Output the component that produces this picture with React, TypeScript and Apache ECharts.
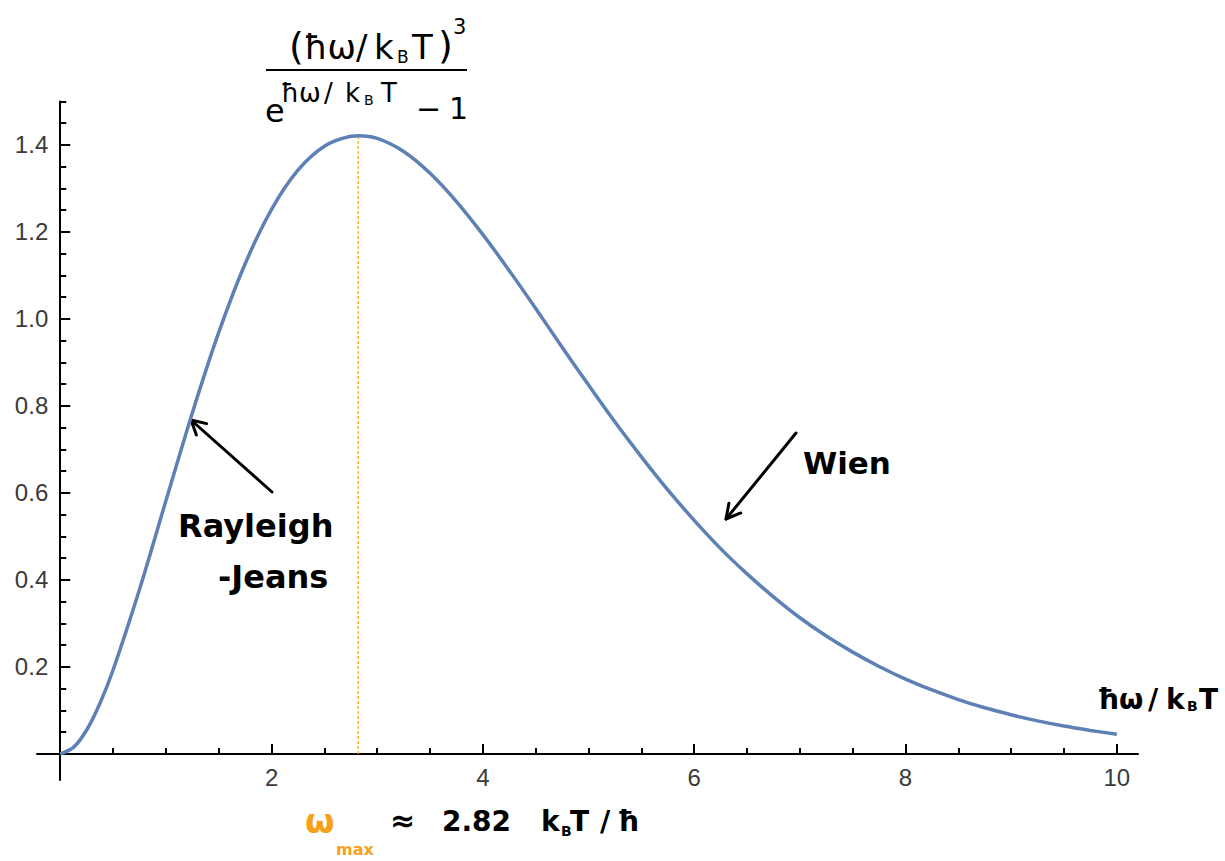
import React, { useEffect, useRef } from 'react';
import * as echarts from 'echarts';

// x = ħω/kBT, y = (ħω/kBT)^3 / (e^(ħω/kBT) - 1)
const xValues = [0, 0.125, 0.25, 0.375, 0.5, 0.75, 1, 1.25, 1.5, 1.75, 2, 2.25, 2.5, 2.75, 2.82, 3, 3.25, 3.5, 3.75, 4, 4.25, 4.5, 4.75, 5, 5.25, 5.5, 5.75, 6, 6.25, 6.5, 6.75, 7, 7.25, 7.5, 7.75, 8, 8.25, 8.5, 8.75, 9, 9.25, 9.5, 9.75, 10];
const yValues = [0, 0.015, 0.055, 0.116, 0.193, 0.378, 0.582, 0.784, 0.969, 1.127, 1.252, 1.342, 1.397, 1.420, 1.421, 1.415, 1.385, 1.335, 1.270, 1.194, 1.111, 1.024, 0.935, 0.848, 0.763, 0.683, 0.607, 0.537, 0.472, 0.414, 0.361, 0.313, 0.271, 0.234, 0.201, 0.172, 0.147, 0.125, 0.106, 0.090, 0.076, 0.064, 0.054, 0.045];

const peakX = [2.82, 2.82];
const peakY = [0, 1.421];

const xMajorTicks = [2, 4, 6, 8, 10];
const xMinorTicks = [0.5, 1, 1.5, 2.5, 3, 3.5, 4.5, 5, 5.5, 6.5, 7, 7.5, 8.5, 9, 9.5];
const yMajorTicks = [0.2, 0.4, 0.6, 0.8, 1.0, 1.2, 1.4];
const yMinorTicks = [0.05, 0.1, 0.15, 0.25, 0.3, 0.35, 0.45, 0.5, 0.55, 0.65, 0.7, 0.75, 0.85, 0.9, 0.95, 1.05, 1.1, 1.15, 1.25, 1.3, 1.35, 1.45, 1.5];
const xTickLabels = ['2', '4', '6', '8', '10'];
const yTickLabels = ['0.2', '0.4', '0.6', '0.8', '1.0', '1.2', '1.4'];

const CURVE = '#5E81B5';
const ORANGE = '#F7A11A';
const HAND = '"DejaVu Sans", "Noto Sans", sans-serif';
const TICKFONT = '"Liberation Sans", Arial, sans-serif';

type Pt = [number, number];

function txt(text: string, x: number, y: number, size: number, opts: any = {}) {
  return {
    type: 'text',
    x,
    y,
    silent: true,
    style: {
      text,
      fill: opts.fill || '#000',
      font: `${opts.weight || 'normal'} ${size}px ${opts.family || HAND}`,
      textAlign: opts.align || 'left',
      textVerticalAlign: 'middle',
    },
  };
}

function arrow(tail: Pt, tip: Pt, len = 16, ang = 0.5) {
  const dx = tail[0] - tip[0];
  const dy = tail[1] - tip[1];
  const L = Math.hypot(dx, dy);
  const ux = dx / L;
  const uy = dy / L;
  const rot = (a: number): Pt => [
    tip[0] + len * (ux * Math.cos(a) - uy * Math.sin(a)),
    tip[1] + len * (ux * Math.sin(a) + uy * Math.cos(a)),
  ];
  return [
    {
      type: 'line',
      silent: true,
      shape: { x1: tail[0], y1: tail[1], x2: tip[0], y2: tip[1] },
      style: { stroke: '#000', lineWidth: 3, lineCap: 'round' },
    },
    {
      type: 'polyline',
      silent: true,
      shape: { points: [rot(ang), tip, rot(-ang)] },
      style: { stroke: '#000', lineWidth: 3, fill: 'none', lineCap: 'round', lineJoin: 'round' },
    },
  ];
}

export default function App() {
  const ref = useRef<HTMLDivElement>(null);

  useEffect(() => {
    document.body.style.margin = '0';
    if (!ref.current) return;
    const chart = echarts.init(ref.current, null, { renderer: 'svg' });

    const black = { color: '#000', width: 2 };

    chart.setOption({
      animation: false,
      backgroundColor: '#fff',
      grid: {
        left: 37,
        top: 101.5,
        width: 1101,
        height: 678.5,
        containLabel: false,
        outerBoundsMode: 'none',
      },
      xAxis: [
        {
          type: 'value',
          min: -0.22,
          max: 10.2,
          position: 'bottom',
          axisLine: { show: true, onZero: true, onZeroAxisIndex: 0, lineStyle: black },
          axisTick: { show: true, inside: true, length: 10, customValues: xMajorTicks, lineStyle: black },
          axisLabel: { show: false },
          splitLine: { show: false },
        },
        {
          type: 'value',
          min: -0.22,
          max: 10.2,
          position: 'bottom',
          axisLine: { show: false, onZero: true, onZeroAxisIndex: 0 },
          axisTick: { show: true, inside: true, length: 6, customValues: xMinorTicks, lineStyle: black },
          axisLabel: { show: false },
          splitLine: { show: false },
        },
      ],
      yAxis: [
        {
          type: 'value',
          min: -0.06,
          max: 1.5,
          position: 'left',
          axisLine: { show: true, onZero: true, onZeroAxisIndex: 0, lineStyle: black },
          axisTick: { show: true, inside: true, length: 10, customValues: yMajorTicks, lineStyle: black },
          axisLabel: { show: false },
          splitLine: { show: false },
        },
        {
          type: 'value',
          min: -0.06,
          max: 1.5,
          position: 'left',
          axisLine: { show: false, onZero: true, onZeroAxisIndex: 0 },
          axisTick: { show: true, inside: true, length: 6, customValues: yMinorTicks, lineStyle: black },
          axisLabel: { show: false },
          splitLine: { show: false },
        },
      ],
      series: [
        {
          type: 'line',
          xAxisIndex: 0,
          yAxisIndex: 0,
          data: peakX.map((x, i) => [x, peakY[i]]),
          showSymbol: false,
          silent: true,
          z: 1,
          lineStyle: { color: ORANGE, width: 1.3, type: [3, 2] },
        },
        {
          type: 'line',
          xAxisIndex: 0,
          yAxisIndex: 0,
          data: xValues.map((x, i) => [x, yValues[i]]),
          showSymbol: false,
          smooth: 0.3,
          silent: true,
          z: 2,
          lineStyle: { color: CURVE, width: 3.5 },
        },
      ],
    });

    // tick labels positioned through the axes' own scales
    const toPx = (x: number, y: number): number[] =>
      chart.convertToPixel({ xAxisIndex: 0, yAxisIndex: 0 }, [x, y]) as number[];
    const tickLabels: any[] = [];
    xMajorTicks.forEach((v, i) => {
      const p = toPx(v, 0);
      tickLabels.push(txt(xTickLabels[i], p[0], p[1] + 24, 24, { family: TICKFONT, fill: '#3a3a3a', align: 'center' }));
    });
    yMajorTicks.forEach((v, i) => {
      const p = toPx(0, v);
      tickLabels.push(txt(yTickLabels[i], p[0] - 12, p[1], 24, { family: TICKFONT, fill: '#3a3a3a', align: 'right' }));
    });

    const graphic: any[] = [
      ...tickLabels,
      // top formula: numerator
      txt('(', 289, 46, 38),
      txt('ħω', 304, 47, 34),
      txt('/', 356, 47, 34),
      txt('k', 374, 47, 34),
      txt('B', 397, 57, 17),
      txt('T', 412, 47, 34),
      txt(')', 438, 45, 38),
      txt('3', 453, 27, 21),
      {
        type: 'line',
        silent: true,
        shape: { x1: 266, y1: 70, x2: 467, y2: 70 },
        style: { stroke: '#000', lineWidth: 2 },
      },
      // denominator
      txt('e', 265, 111, 32),
      txt('ħω', 281, 93, 26),
      txt('/', 324, 93, 26),
      txt('k', 345, 93, 26),
      txt('B', 364, 100, 14),
      txt('T', 381, 93, 26),
      txt('−', 416, 108, 30),
      txt('1', 449, 108, 30),
      // axis name
      txt('ħω', 1097, 699, 28, { weight: 'bold' }),
      txt('/', 1148, 699, 28, { weight: 'bold' }),
      txt('k', 1166, 699, 28, { weight: 'bold' }),
      txt('B', 1187, 706, 14, { weight: 'bold' }),
      txt('T', 1199, 699, 28, { weight: 'bold' }),
      // annotations
      txt('Rayleigh', 178, 526, 32, { weight: 'bold' }),
      txt('-Jeans', 218, 577, 32, { weight: 'bold' }),
      txt('Wien', 803, 463, 31, { weight: 'bold' }),
      ...arrow([272, 492], [191, 420]),
      ...arrow([796, 433], [726, 519]),
      // bottom: omega max
      txt('ω', 305, 821, 34, { weight: 'bold', fill: ORANGE }),
      txt('max', 336, 849, 16, { weight: 'bold', fill: ORANGE }),
      txt('≈', 390, 820, 30, { weight: 'bold' }),
      txt('2.82', 442, 821, 28, { weight: 'bold' }),
      txt('k', 541, 821, 28, { weight: 'bold' }),
      txt('B', 561, 831, 14, { weight: 'bold' }),
      txt('T', 570, 821, 28, { weight: 'bold' }),
      txt('/', 600, 821, 28, { weight: 'bold' }),
      txt('ħ', 617, 821, 28, { weight: 'bold' }),
    ];

    chart.setOption({ graphic });

    return () => {
      chart.dispose();
    };
  }, []);

  return <div ref={ref} style={{ width: 1225, height: 861 }} />;
}
